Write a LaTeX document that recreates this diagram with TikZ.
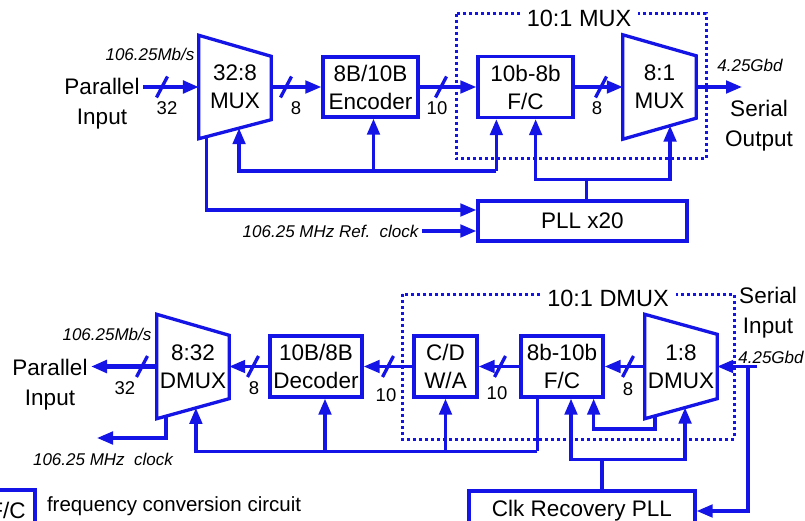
\documentclass[tikz,border=0pt]{standalone}
\usepackage{fontspec}
\setmainfont{Liberation Sans}
\usetikzlibrary{arrows.meta,calc}
\definecolor{sigblue}{RGB}{20,20,230}
\begin{document}
\begin{tikzpicture}[x=1pt,y=-1pt,
  wire/.style={draw=sigblue,line width=3.3pt},
  sig/.style={wire,-{Triangle[length=16pt,width=12.5pt]}},
  fat/.style={line width=4.5pt},
  blok/.style={wire,align=center,inner sep=0pt,font=\fontsize{22.5}{28}\selectfont},
  muxtext/.style={align=center,inner sep=0pt,font=\fontsize{22.5}{28}\selectfont},
  txt/.style={align=center,font=\fontsize{22.5}{30}\selectfont},
  rate/.style={font=\fontsize{17}{20}\selectfont\itshape},
  buswidth/.style={font=\fontsize{18.5}{20}\selectfont},
  dotframe/.style={draw=sigblue,line width=3pt,dash pattern=on 3pt off 3pt},
  title/.style={fill=white,inner xsep=7pt,inner ysep=1pt,font=\fontsize{23.5}{26}\selectfont},
  busmark/.pic={\draw[wire] (-5.5,10.5) -- (5.5,-10.5);}]
  \useasboundingbox (0,0) rectangle (805,521);
  \clip (0,0) rectangle (805,521);

  % 10:1 MUX a 10:1 DMUX - teckovane ramecky
  \draw[dotframe] (456,14) rectangle (706,159);
  \node[title] (tmux) at (579,18) {10:1 MUX};
  \draw[dotframe] (402,294) rectangle (734,439);
  \node[title] (tdmux) at (608,298) {10:1 DMUX};

  % horni rada: vysilac
  \node[muxtext,minimum width=72pt,minimum height=103pt] (mux1) at (235,87) {32:8\\MUX};
  \coordinate (mux1se) at ([yshift=19pt]mux1.south east);
  \draw[wire] (mux1.north west) -- ([yshift=-21pt]mux1.north east) -- (mux1se) -- (mux1.south west) -- cycle;
  \node[blok,minimum width=95pt,minimum height=60pt] (enc) at (370.5,87) {8B/10B\\Encoder};
  \node[blok,minimum width=95pt,minimum height=61pt] (fc1) at (525.5,87) {10b-8b\\F/C};
  \node[muxtext,minimum width=73pt,minimum height=104pt] (mux2) at (659.5,87) {8:1\\MUX};
  \coordinate (mux2se) at ([yshift=21pt]mux2.south east);
  \draw[wire] (mux2.north west) -- ([yshift=-21pt]mux2.north east) -- (mux2se) -- (mux2.south west) -- cycle;
  \node[blok,minimum width=209pt,minimum height=40pt] (pll1) at (582.5,221) {PLL x20};

  \node[txt] (pin) at (102,103.5) {Parallel\\Input};
  \node[txt] (sout) at (759,126) {Serial\\Output};
  \node[rate] (rin) at (150,54) {106.25Mb/s};
  \node[rate] (rout) at (750,65) {4.25Gbd};
  \node[rate,anchor=east] (refclk) at (422,231) {106.25 MHz Ref.\ \ clock};

  % datova cesta
  \draw[sig,fat] (pin.east |- mux1.west) -- (mux1.west);
  \pic at (162,87) {busmark};
  \node[buswidth] (w1) at (167,108) {32};
  \draw[sig] (mux1.east) -- (enc.west);
  \pic at (286,87) {busmark};
  \node[buswidth] (w2) at (296,108) {8};
  \draw[sig] (enc.east) -- (fc1.west);
  \pic at (441,87) {busmark};
  \node[buswidth] (w3) at (437,108) {10};
  \draw[sig] (fc1.east) -- (mux2.west);
  \pic at (601,87) {busmark};
  \node[buswidth] (w4) at (597,108) {8};
  \coordinate (so) at (742,87);
  \draw[sig] (mux2.east) -- (so);

  % hodiny z PLL x20
  \coordinate (m1a) at ($(mux1.south west)!0.556!(mux1se)$);
  \coordinate (m1b) at ($(mux1.south west)!0.111!(mux1se)$);
  \coordinate (m2a) at ($(mux2.south west)!0.644!(mux2se)$);
  \coordinate (enca) at ([xshift=3pt]enc.south);
  \coordinate (fc1a) at ([xshift=20pt]fc1.south west);
  \coordinate (fc1b) at ([xshift=-39pt]fc1.south east);
  \path (fc1a) ++(0,52) coordinate (fb1);
  \draw[sig] (fb1) -- (fc1a);
  \draw[sig] (fb1) -| (m1a);
  \draw[sig] (enca |- fb1) -- (enca);
  \draw[wire] ([xshift=4pt]pll1.north) -- ++(0,-20) coordinate (pb1);
  \draw[sig] (pb1) -| (fc1b);
  \draw[sig] (pb1) -| (m2a);
  \draw[sig] (m1b) |- ([yshift=11pt]pll1.west);
  \coordinate (pr) at ([yshift=-10pt]pll1.west);
  \draw[sig] (refclk.east |- pr) -- (pr);

  % dolni rada: prijimac
  \node[muxtext,minimum width=72pt,minimum height=104pt] (dmux1) at (193,366.5) {8:32\\DMUX};
  \coordinate (dmux1se) at ([yshift=20pt]dmux1.south east);
  \draw[wire] (dmux1.north west) -- ([yshift=-21pt]dmux1.north east) -- (dmux1se) -- (dmux1.south west) -- cycle;
  \node[blok,minimum width=92pt,minimum height=61pt] (dec) at (316,366.5) {10B/8B\\Decoder};
  \node[blok,minimum width=63pt,minimum height=61pt] (cdwa) at (445.5,366.5) {C/D\\W/A};
  \node[blok,minimum width=82pt,minimum height=61pt] (fc2) at (562,366.5) {8b-10b\\F/C};
  \node[muxtext,minimum width=72pt,minimum height=104pt] (dmux2) at (681,366.5) {1:8\\DMUX};
  \coordinate (dmux2se) at ([yshift=20pt]dmux2.south east);
  \draw[wire] (dmux2.north west) -- ([yshift=-20pt]dmux2.north east) -- (dmux2se) -- (dmux2.south west) -- cycle;
  \node[blok,minimum width=226pt,minimum height=40pt] (pll2) at (582,511) {Clk Recovery PLL};

  \node[txt] (pout) at (50,385) {Parallel\\Input};
  \node[txt] (sin) at (768,313) {Serial\\Input};
  \node[rate] (rpout) at (107,334) {106.25Mb/s};
  \node[rate] (rsin) at (771,357) {4.25Gbd};
  \node[rate] (clkout) at (103,459) {106.25 MHz\ \ clock};

  % datova cesta
  \coordinate (si) at (757,366.5);
  \coordinate (sbr) at (748,366.5);
  \draw[sig] (si) -- (dmux2.east);
  \draw[sig] (sbr) |- (pll2.east);
  \draw[sig] (dmux2.west) -- (fc2.east);
  \pic at (628,366.5) {busmark};
  \node[buswidth] (w5) at (628,389) {8};
  \draw[sig] (fc2.west) -- (cdwa.east);
  \pic at (500,366.5) {busmark};
  \node[buswidth] (w6) at (497,393) {10};
  \draw[sig] (cdwa.west) -- (dec.east);
  \pic at (388,366.5) {busmark};
  \node[buswidth] (w7) at (386,395) {10};
  \draw[sig] (dec.west) -- (dmux1.east);
  \pic at (253,366.5) {busmark};
  \node[buswidth] (w8) at (254,388) {8};
  \draw[sig,fat] (dmux1.west) -- (pout.east |- dmux1.west);
  \pic at (142,366.5) {busmark};
  \node[buswidth] (w9) at (125,388) {32};

  % hodiny z obvodu obnovy
  \coordinate (d1a) at ($(dmux1.south west)!0.54!(dmux1se)$);
  \coordinate (d1b) at ($(dmux1.south west)!0.125!(dmux1se)$);
  \coordinate (d2a) at ($(dmux2.south west)!0.556!(dmux2se)$);
  \coordinate (d2b) at ($(dmux2.south west)!0.139!(dmux2se)$);
  \coordinate (deca) at ([xshift=9pt]dec.south);
  \coordinate (fc2a) at ([xshift=18pt]fc2.south west);
  \coordinate (fc2b) at ([xshift=-11pt]fc2.south east);
  \coordinate (fc2c) at ([xshift=9pt]fc2.south);
  \draw[wire] (fc2a) -- ++(0,52.5) coordinate (fb2);
  \draw[sig] (fb2) -| (d1a);
  \draw[sig] (cdwa.south |- fb2) -- (cdwa.south);
  \draw[sig] (deca |- fb2) -- (deca);
  \draw[sig] (d2b) -- ++(0,13) -| (fc2b);
  \draw[wire] ([xshift=20pt]pll2.north) -- ++(0,-30) coordinate (pb2);
  \draw[sig] (pb2) -| (fc2c);
  \draw[sig] (pb2) -| (d2a);
  \coordinate (co) at (97,438);
  \draw[sig] (d1b) |- (co);

  % legenda
  \node[blok,minimum width=55pt,minimum height=40pt] (lgd) at (7.5,510) {F/C};
  \node[anchor=west,font=\fontsize{20.5}{24}\selectfont] (lgdtxt) at (43.5,506) {frequency conversion circuit};
\end{tikzpicture}
\end{document}
